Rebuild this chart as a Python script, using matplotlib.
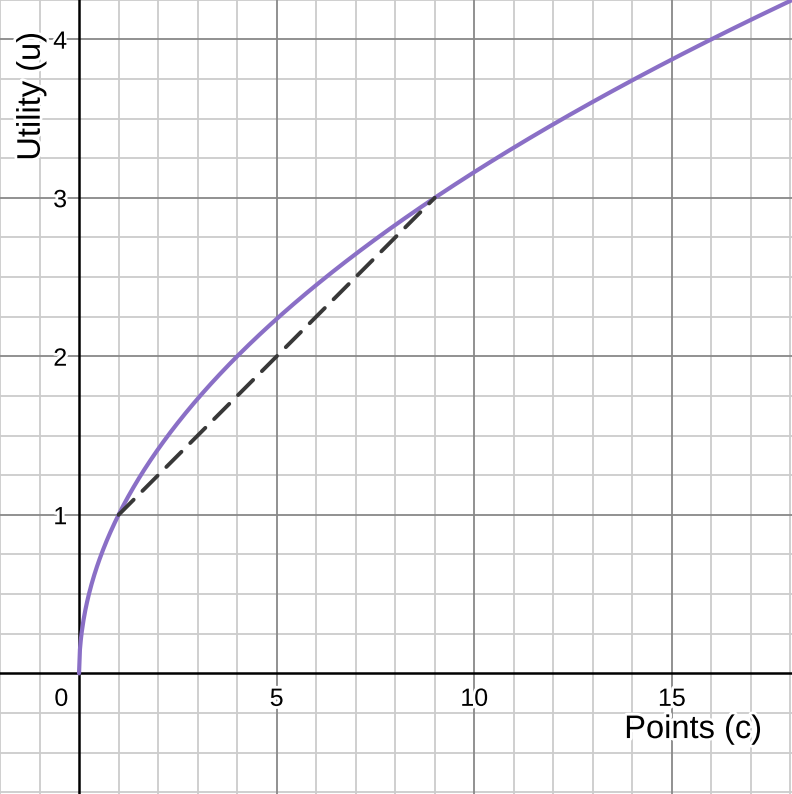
import numpy as np
import matplotlib
matplotlib.use("Agg")
import matplotlib.pyplot as plt
import matplotlib.patheffects as pe

# Data
x_ticks = [5, 10, 15]
y_ticks = [1, 2, 3, 4]
chord_c = [1, 9]
chord_u = [1, 3]
c_max = 18.1
exponent = 0.5  # curve u = c ** 0.5

plt.rcParams['font.family'] = ['Liberation Sans', 'DejaVu Sans']

fig = plt.figure(figsize=(7.92, 7.94), dpi=100)
ax = fig.add_axes([0, 0, 1, 1])
xlim = (-2.0, 18.04)
ylim = (-0.761, 4.248)
ax.set_xlim(*xlim)
ax.set_ylim(*ylim)
for s in ax.spines.values():
    s.set_visible(False)
ax.set_xticks([])
ax.set_yticks([])

# minor grid
for xv in np.arange(-2, 19, 1):
    if xv % 5 != 0:
        ax.axvline(xv, color='#cccccc', lw=1.3, zorder=0)
for yv in np.arange(-0.75, 4.3, 0.25):
    if abs(yv - round(yv)) > 1e-9:
        ax.axhline(yv, color='#cccccc', lw=1.3, zorder=0)
# major grid
for xv in [-5, 5, 10, 15]:
    ax.axvline(xv, color='#888888', lw=1.3, zorder=0.5)
for yv in [1, 2, 3, 4]:
    ax.axhline(yv, color='#888888', lw=1.3, zorder=0.5)
# axes
ax.axvline(0, color='black', lw=1.8, zorder=1)
ax.axhline(0, color='black', lw=1.8, zorder=1)

halo = [pe.withStroke(linewidth=4, foreground='white')]
for xv in x_ticks:
    ax.text(xv, -0.085, str(xv), ha='center', va='top', fontsize=18,
            path_effects=halo, zorder=3)
ax.text(-0.27, -0.085, '0', ha='right', va='top', fontsize=18,
        path_effects=halo, zorder=3)
for yv in y_ticks:
    ax.text(-0.3, yv - 0.015, str(yv), ha='right', va='center', fontsize=18,
            path_effects=halo, zorder=3)

ax.text(17.28, -0.408, 'Points (c)', ha='right', va='baseline', fontsize=23.5,
        path_effects=halo, zorder=3)
ax.text(-1.21, 3.64, 'Utility (u)', ha='center', va='center', rotation=90,
        fontsize=23.5, path_effects=halo, zorder=3)

c = np.linspace(0, c_max, 800)
u = c ** exponent
ax.plot(c, u, color='#8a6fc6', lw=3.0, zorder=4, solid_capstyle='round')
ax.plot(chord_c, chord_u, color='#383838', lw=2.8, zorder=5,
        linestyle=(0, (5.5, 3.2)), dash_capstyle='round')

fig.savefig('out.png', dpi=100)
